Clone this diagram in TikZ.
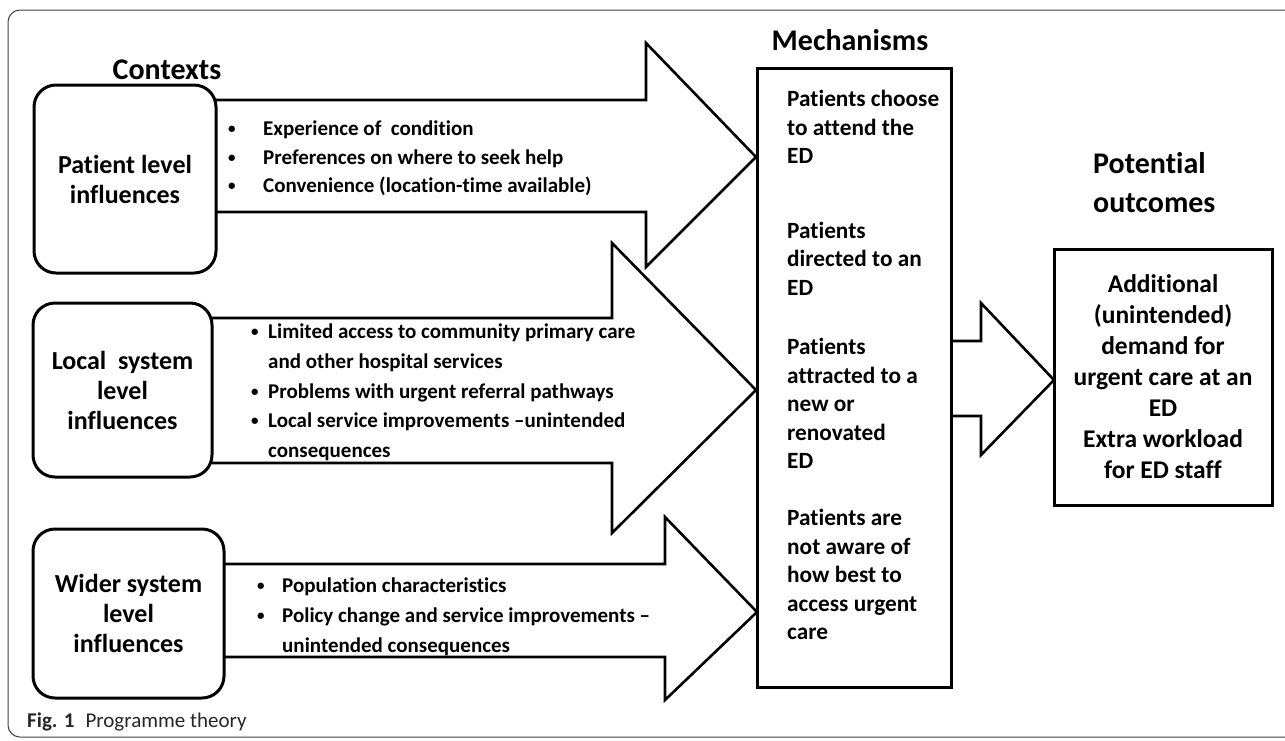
\documentclass[tikz,border=0pt]{standalone}
\usepackage{fontspec}
\setmainfont[Ligatures=NoCommon]{Carlito}
\newcommand\bl[1]{\makebox[#1pt][l]{\raisebox{2pt}{\fontsize{15}{15}\selectfont•}}}
\newcommand\ind[1]{\makebox[#1pt][l]{}}
\tikzset{
  ctxbox/.style={draw, line width=3pt, rounded corners=22pt, fill=white, inner sep=0pt,
     align=center, font=\bfseries\fontsize{26}{30}\selectfont},
  plainbox/.style={draw, line width=3pt, fill=white, inner sep=0pt},
  blockarrow/.style={draw, line width=2.6pt, fill=white, line join=miter},
  bul/.style={font=\bfseries\fontsize{21}{29.7}\selectfont, align=left, anchor=west, inner sep=0pt},
  mtxt/.style={font=\bfseries\fontsize{23.3}{28.5}\selectfont, align=left, anchor=west, inner sep=0pt},
  ttl/.style={font=\bfseries\fontsize{30}{39}\selectfont, inner sep=0pt},
  frame/.style={draw=black!75, line width=1pt, rounded corners=12pt}
}
\begin{document}
\begin{tikzpicture}[x=1pt,y=-1pt]
\useasboundingbox (0,0) rectangle (1285,740);
\draw[frame] (8,10) rectangle (1310,737);

% block arrows
\draw[blockarrow] (216,100) -- (646,100) -- (646,43) -- (756,157) -- (646,267) -- (646,212) -- (216,212);
\draw[blockarrow] (212,318) -- (612,318) -- (612,243) -- (756,390) -- (612,533) -- (612,463) -- (212,463);
\draw[blockarrow] (224,564) -- (665,564) -- (665,517) -- (757,612) -- (665,700) -- (665,657) -- (224,657);
\draw[blockarrow] (951,341) -- (981,341) -- (981,303) -- (1054,380) -- (981,455) -- (981,416) -- (951,416);

% context boxes
\node[ctxbox, minimum width=182pt, minimum height=188pt] (pat) at (125,179) {Patient level\\influences};
\node[ctxbox, minimum width=179pt, minimum height=174pt] (loc) at (122.5,390) {Local~~system\\level\\influences};
\node[ctxbox, minimum width=191pt, minimum height=169pt] (wid) at (128.5,613.5) {Wider system\\level\\influences};

% mechanisms and outcomes boxes
\node[plainbox, minimum width=194pt, minimum height=619pt] (mech) at (854,377.5) {};
\node[plainbox, minimum width=218pt, minimum height=256pt, align=center,
      font=\bfseries\fontsize{25.5}{31}\selectfont] (out) at (1163,377)
  {Additional\\(unintended)\\demand for\\urgent care at an\\ED\\Extra workload\\for ED staff};

% titles
\node[ttl] (tctx) at (167,70) {Contexts};
\node[ttl] (tmech) at (850,40) {Mechanisms};
\node[ttl, align=left, anchor=west] (tout) at (1093,182.5) {Potential\\outcomes};

% bullet texts
\node[bul, font=\bfseries\fontsize{21}{28.5}\selectfont] (b1) at (228,158.5)
  {\bl{35}Experience of~~condition\\\bl{35}Preferences on where to seek help\\\bl{35}Convenience (location-time available)};
\node[bul] (b2) at (251,392.5)
  {\bl{17}Limited access to community primary care\\\ind{17}and other hospital services\\\bl{17}Problems with urgent referral pathways\\\bl{17}Local service improvements –unintended\\\ind{17}consequences};
\node[bul, font=\bfseries\fontsize{21}{30}\selectfont] (b3) at (257,617)
  {\bl{25}Population characteristics\\\bl{25}Policy change and service improvements –\\\ind{25}unintended consequences};

% mechanism texts
\node[mtxt] (m1) at (787,127) {Patients choose\\to attend the\\ED};
\node[mtxt] (m2) at (787,258.5) {Patients\\directed to an\\ED};
\node[mtxt] (m3) at (787,403.5) {Patients\\attracted to a\\new or\\renovated\\ED};
\node[mtxt] (m4) at (787,574.5) {Patients are\\not aware of\\how best to\\access urgent\\care};

% caption
\node[anchor=west, inner sep=0pt, font=\fontsize{21}{24}\selectfont, text=black!85] (cap) at (27,722)
  {\textbf{Fig. 1}\hspace{11pt}Programme theory};
\end{tikzpicture}
\end{document}
